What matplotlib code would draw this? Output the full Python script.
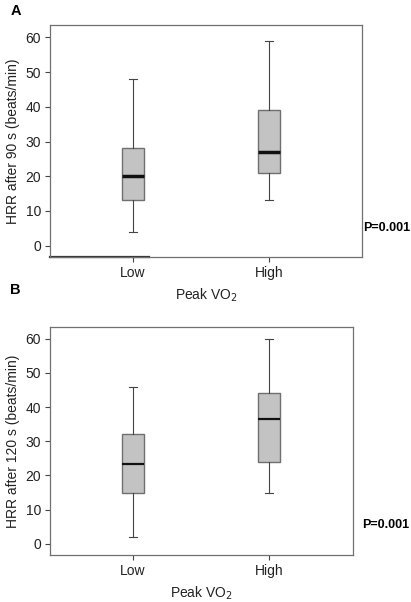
import matplotlib
matplotlib.use("Agg")
import matplotlib.pyplot as plt

plt.rcParams["font.family"] = ["Liberation Sans", "DejaVu Sans"]

groups = ["Low", "High"]
# five-number summaries: whisker low, Q1, median, Q3, whisker high
hrr90_low = [4, 13, 20, 28, 48]
hrr90_high = [13, 21, 27, 39, 59]
hrr120_low = [2, 15, 23.5, 32, 46]
hrr120_high = [15, 24, 36.5, 44, 60]
yticks = [0, 10, 20, 30, 40, 50, 60]
p_text = "P=0.001"


def stats(name, v):
    return {"label": name, "whislo": v[0], "q1": v[1], "med": v[2], "q3": v[3], "whishi": v[4], "fliers": []}


def draw_panel(ax, data, ylabel, med_lw, xmax):
    bx = [stats(g, v) for g, v in zip(groups, data)]
    ax.bxp(
        bx,
        positions=[1, 2],
        widths=0.16,
        patch_artist=True,
        showfliers=False,
        boxprops=dict(facecolor="#c3c3c3", edgecolor="#707070", linewidth=1.0),
        whiskerprops=dict(color="#444444", linewidth=0.8),
        capprops=dict(color="#444444", linewidth=0.8),
        capwidths=0.06,
        medianprops=dict(color="#111111", linewidth=med_lw, solid_capstyle="butt"),
    )
    ax.set_xlim(0.39, xmax)
    ax.set_ylim(-3.3, 63.5)
    ax.set_yticks(yticks)
    ax.set_xticks([1, 2])
    ax.set_xticklabels(groups)
    ax.tick_params(labelsize=10, length=3.5, width=0.8, color="#444444", pad=3, labelcolor="#222222")
    for s in ax.spines.values():
        s.set_color("#707070")
        s.set_linewidth(0.9)
    ax.set_ylabel(ylabel, fontsize=10, labelpad=4, color="#222222")
    ax.set_xlabel("Peak VO$_2$", fontsize=10, labelpad=5, color="#222222")


fig = plt.figure(figsize=(4.11, 6.02), dpi=100)

ax1 = fig.add_axes([0.1217, 0.573, 0.759, 0.385])
draw_panel(ax1, [hrr90_low, hrr90_high], "HRR after 90 s (beats/min)", 2.5, 2.68)
# darker stub on the bottom spine, as in the original
ax1.plot([0.39, 1.12], [-3.3, -3.3], color="#333333", lw=1.6, clip_on=False)
fig.text(0.884, 0.621, p_text, fontsize=9, fontweight="bold", va="center")
fig.text(0.025, 0.982, "A", fontsize=10.5, fontweight="bold", va="center")

ax2 = fig.add_axes([0.1217, 0.078, 0.737, 0.379])
draw_panel(ax2, [hrr120_low, hrr120_high], "HRR after 120 s (beats/min)", 1.6, 2.62)
fig.text(0.882, 0.128, p_text, fontsize=9, fontweight="bold", va="center")
fig.text(0.025, 0.519, "B", fontsize=10.5, fontweight="bold", va="center")

fig.savefig("out.png", dpi=100)
